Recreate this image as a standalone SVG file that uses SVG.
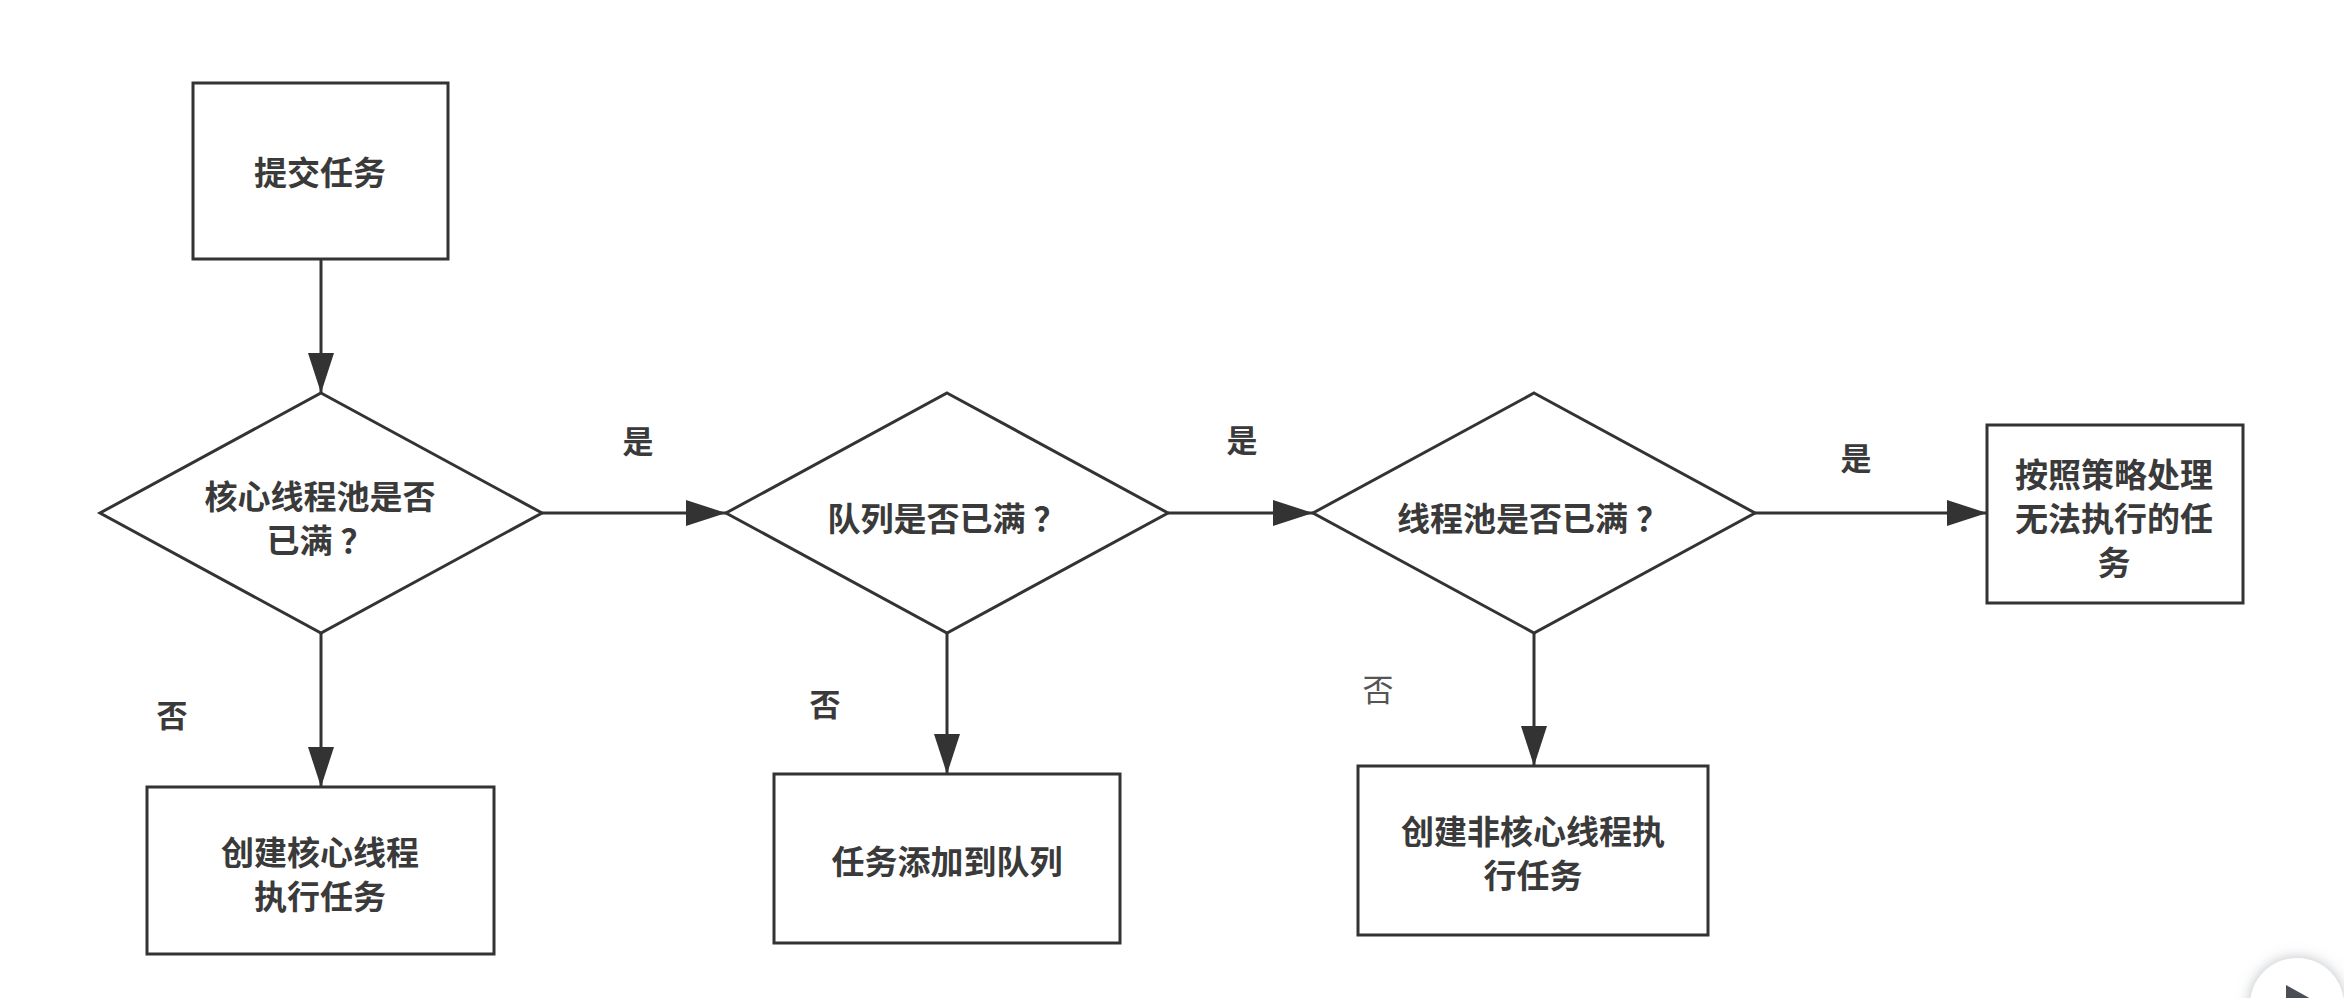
<svg xmlns="http://www.w3.org/2000/svg" width="2344" height="998" viewBox="0 0 2344 998">
  <style>
    .shape { fill: #ffffff; stroke: #333333; stroke-width: 3; }
    .conn { stroke: #333333; stroke-width: 3; fill: none; }
    .t { font-family: "Noto Sans CJK SC", "Noto Sans", sans-serif; font-size: 33px; font-weight: 700; fill: #3a3a3a; text-anchor: middle; dominant-baseline: central; }
    .lbl { font-family: "Noto Sans CJK SC", "Noto Sans", sans-serif; font-size: 31px; font-weight: 700; fill: #3a3a3a; text-anchor: middle; dominant-baseline: central; }
    .lbl-light { font-weight: 400; fill: #555555; }
  </style>
  <defs>
    <marker id="arrow" markerWidth="40" markerHeight="26" refX="40" refY="13" orient="auto" markerUnits="userSpaceOnUse">
      <path d="M0,0 L40,13 L0,26 Z" fill="#333333"/>
    </marker>
    <filter id="shadow" x="-50%" y="-50%" width="200%" height="200%">
      <feDropShadow dx="0" dy="0" stdDeviation="7" flood-color="#9aa0a8" flood-opacity="0.7"/>
    </filter>
  </defs>
  <rect width="2344" height="998" fill="#ffffff"/>

  <g id="connectors">
    <line class="conn" x1="321" y1="259" x2="321" y2="393" marker-end="url(#arrow)"/>
    <line class="conn" x1="321" y1="633" x2="321" y2="787" marker-end="url(#arrow)"/>
    <line class="conn" x1="542" y1="513" x2="726" y2="513" marker-end="url(#arrow)"/>
    <line class="conn" x1="947" y1="633" x2="947" y2="774" marker-end="url(#arrow)"/>
    <line class="conn" x1="1168" y1="513" x2="1313" y2="513" marker-end="url(#arrow)"/>
    <line class="conn" x1="1534" y1="633" x2="1534" y2="766" marker-end="url(#arrow)"/>
    <line class="conn" x1="1755" y1="513" x2="1987" y2="513" marker-end="url(#arrow)"/>
    <text class="lbl" x="638" y="439">是</text>
    <text class="lbl" x="1242" y="438">是</text>
    <text class="lbl" x="1856" y="456">是</text>
    <text class="lbl" x="172" y="713">否</text>
    <text class="lbl" x="825" y="702">否</text>
    <text class="lbl lbl-light" x="1378" y="687">否</text>
  </g>

  <g id="submit">
    <rect class="shape" x="193" y="83" width="255" height="176"/>
    <text class="t" x="320" y="171">提交任务</text>
  </g>

  <g id="coreFull">
    <polygon class="shape" points="321,393 542,513 321,633 100,513"/>
    <text class="t" x="320" y="495">核心线程池是否</text>
    <text class="t" x="320" y="539">已满<tspan dx="8">？</tspan></text>
  </g>

  <g id="createCore">
    <rect class="shape" x="147" y="787" width="347" height="167"/>
    <text class="t" x="320" y="851">创建核心线程</text>
    <text class="t" x="320" y="895">执行任务</text>
  </g>

  <g id="queueFull">
    <polygon class="shape" points="947,393 1168,513 947,633 726,513"/>
    <text class="t" x="947" y="517">队列是否已满<tspan dx="8">？</tspan></text>
  </g>

  <g id="addQueue">
    <rect class="shape" x="774" y="774" width="346" height="169"/>
    <text class="t" x="947" y="860">任务添加到队列</text>
  </g>

  <g id="poolFull">
    <polygon class="shape" points="1534,393 1755,513 1534,633 1313,513"/>
    <text class="t" x="1533" y="517">线程池是否已满<tspan dx="8">？</tspan></text>
  </g>

  <g id="createNonCore">
    <rect class="shape" x="1358" y="766" width="350" height="169"/>
    <text class="t" x="1533" y="830">创建非核心线程执</text>
    <text class="t" x="1533" y="874">行任务</text>
  </g>

  <g id="reject">
    <rect class="shape" x="1987" y="425" width="256" height="178"/>
    <text class="t" x="2114" y="473">按照策略处理</text>
    <text class="t" x="2114" y="517">无法执行的任</text>
    <text class="t" x="2114" y="561">务</text>
  </g>

  <g id="playButton">
    <circle cx="2297" cy="1005" r="47" fill="#ffffff" filter="url(#shadow)"/>
    <polygon points="2286,985 2322,1005 2286,1025" fill="#4a4f57"/>
  </g>
</svg>
